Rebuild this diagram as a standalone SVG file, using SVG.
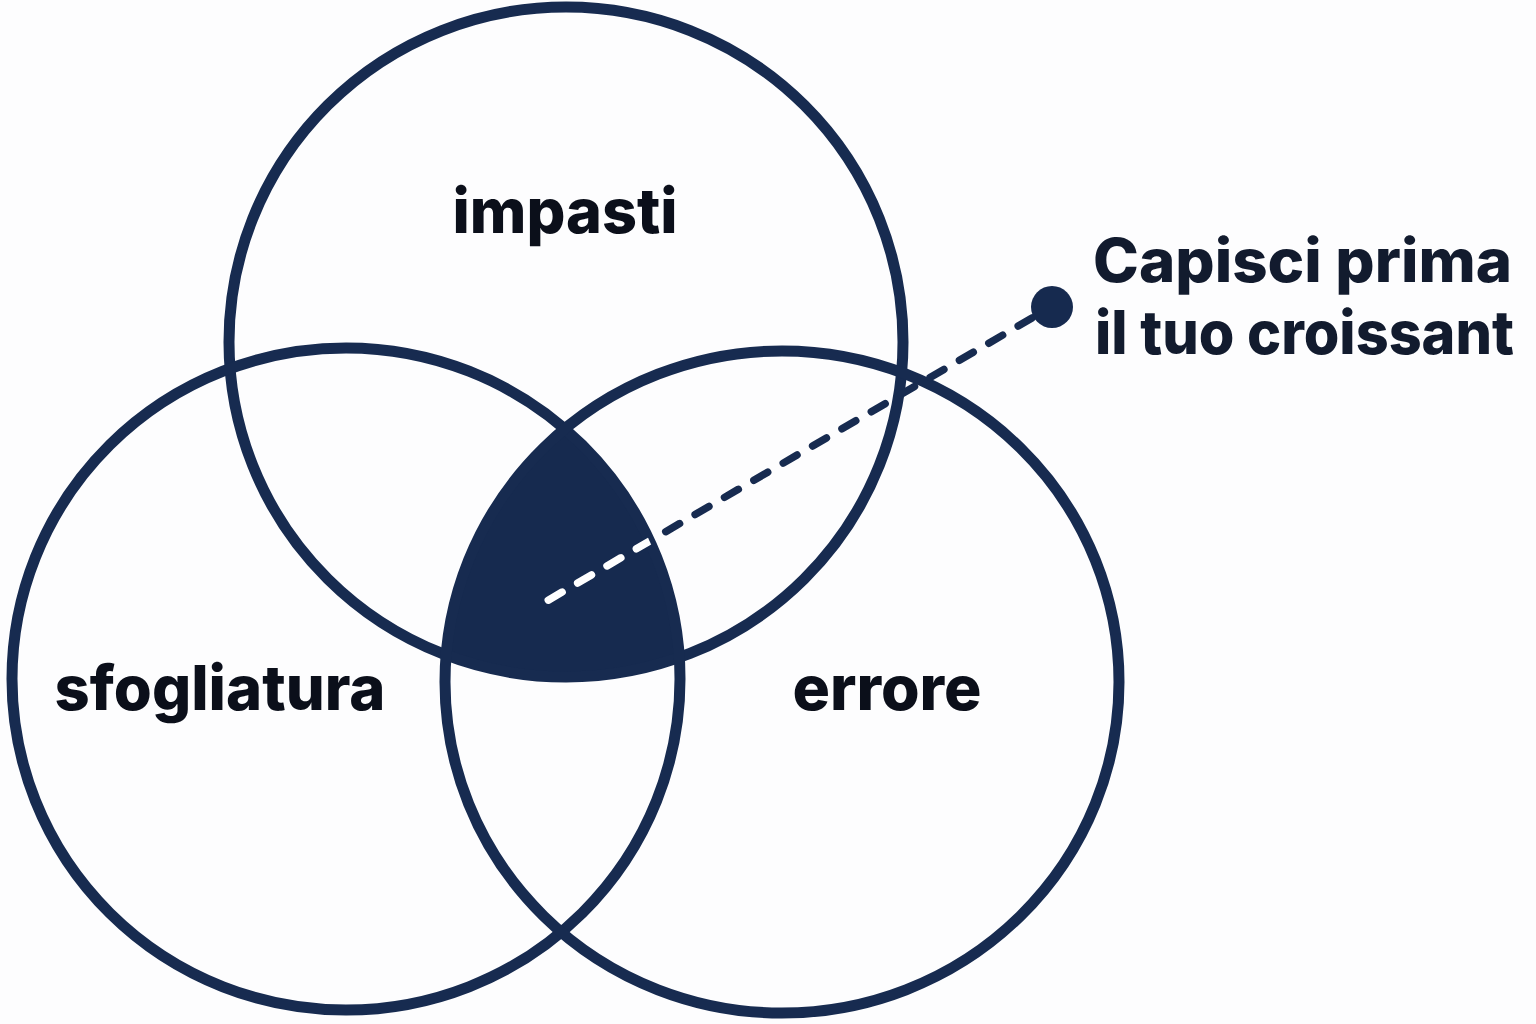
<svg xmlns="http://www.w3.org/2000/svg" width="1536" height="1024" viewBox="0 0 1536 1024">
  <style>
    .ring { fill: none; stroke: #172b50; stroke-width: 11; }
    .label { font-family: Inter, "Noto Sans", "Liberation Sans", sans-serif; font-weight: 800; fill: #0b0f1a; }
    .callout { font-family: Inter, "Noto Sans", "Liberation Sans", sans-serif; font-weight: 800; fill: #121b2e; }
    .dash { fill: none; stroke-width: 7.5; stroke-linecap: round; stroke-dasharray: 16 18; }
  </style>
  <defs>
    <clipPath id="clipLeft"><ellipse cx="346" cy="679" rx="334" ry="331"/></clipPath>
    <clipPath id="clipRight"><ellipse cx="782" cy="682" rx="337" ry="331"/></clipPath>
    <clipPath id="clipTop"><ellipse cx="566" cy="342" rx="337" ry="335"/></clipPath>
  </defs>
  <rect width="1536" height="1024" fill="#fdfdfe"/>

  <g id="intersection">
    <g clip-path="url(#clipRight)">
      <g clip-path="url(#clipLeft)">
        <ellipse cx="566" cy="342" rx="337" ry="335" fill="#162a4f"/>
      </g>
    </g>
  </g>

  <g id="node-impasti">
    <ellipse class="ring" cx="566" cy="342" rx="337" ry="335"/>
    <text class="label" x="565" y="233" font-size="62" text-anchor="middle" textLength="225" lengthAdjust="spacingAndGlyphs">impasti</text>
  </g>
  <g id="node-sfogliatura">
    <ellipse class="ring" cx="346" cy="679" rx="334" ry="331"/>
    <text class="label" x="220" y="710" font-size="62" text-anchor="middle" textLength="331" lengthAdjust="spacingAndGlyphs">sfogliatura</text>
  </g>
  <g id="node-errore">
    <ellipse class="ring" cx="782" cy="682" rx="337" ry="331"/>
    <text class="label" x="887" y="710" font-size="62" text-anchor="middle" textLength="189" lengthAdjust="spacingAndGlyphs">errore</text>
  </g>

  <g id="connectors">
    <path class="dash" stroke="#172b50" d="M1032,318 L540,605"/>
    <g clip-path="url(#clipRight)">
      <g clip-path="url(#clipLeft)">
        <g clip-path="url(#clipTop)">
          <path class="dash" stroke="#ffffff" d="M1032,318 L540,605"/>
        </g>
      </g>
    </g>
  </g>

  <g id="node-callout">
    <circle cx="1052" cy="307" r="21" fill="#162a4f"/>
    <text class="callout" x="1093" y="282" font-size="60" textLength="419" lengthAdjust="spacingAndGlyphs">Capisci prima</text>
    <text class="callout" x="1095" y="354" font-size="60" textLength="419" lengthAdjust="spacingAndGlyphs">il tuo croissant</text>
  </g>
</svg>
